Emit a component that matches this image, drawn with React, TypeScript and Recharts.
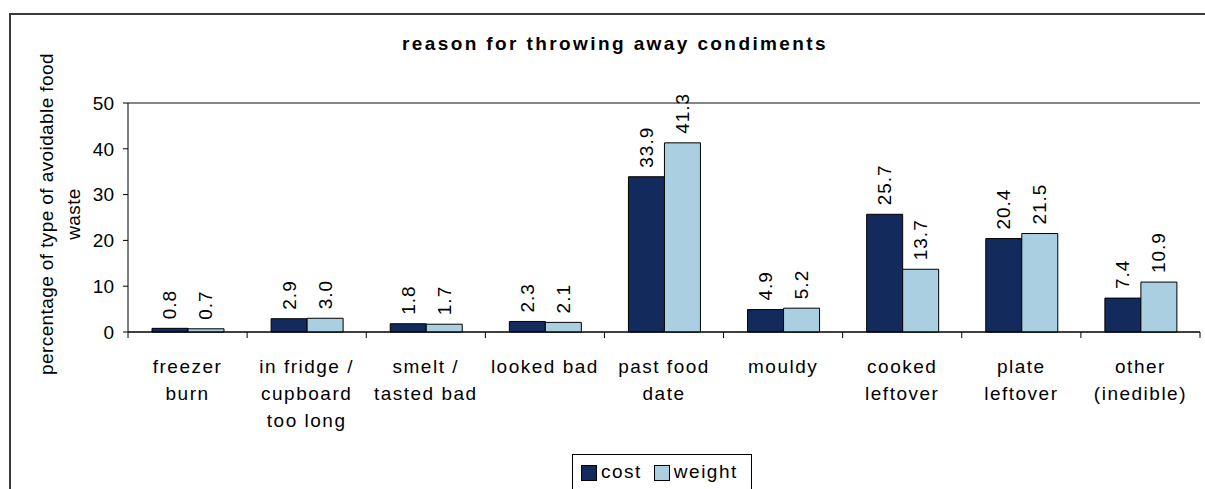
import React from "react";
import { BarChart, Bar, XAxis, YAxis, CartesianGrid, ReferenceLine, LabelList } from "recharts";

const categories = [
  "freezer burn",
  "in fridge / cupboard too long",
  "smelt / tasted bad",
  "looked bad",
  "past food date",
  "mouldy",
  "cooked leftover",
  "plate leftover",
  "other (inedible)",
];
// how each category label wraps under the axis
const categoryLines = [
  ["freezer", "burn"],
  ["in fridge /", "cupboard", "too long"],
  ["smelt /", "tasted bad"],
  ["looked bad"],
  ["past food", "date"],
  ["mouldy"],
  ["cooked", "leftover"],
  ["plate", "leftover"],
  ["other", "(inedible)"],
];
const costValues = [0.8, 2.9, 1.8, 2.3, 33.9, 4.9, 25.7, 20.4, 7.4];
const weightValues = [0.7, 3.0, 1.7, 2.1, 41.3, 5.2, 13.7, 21.5, 10.9];
const yTicks = [0, 10, 20, 30, 40, 50];

const data = categories.map((name, i) => ({
  name,
  cost: costValues[i],
  weight: weightValues[i],
}));

const FONT = '"Liberation Sans", Arial, sans-serif';
const COST_COLOR = "#132B5C";
const WEIGHT_COLOR = "#A9CFE1";

const CategoryTick = (props: any) => {
  const { x, y, payload } = props;
  const lines = categoryLines[payload.index] ?? [String(payload.value)];
  const half = payload.offset ?? 0;
  const isLast = payload.index === categories.length - 1;
  return (
    <g>
      {/* tick marks sit on the category boundaries */}
      <line x1={x - half} x2={x - half} y1={y} y2={y + 6} stroke="#000" />
      {isLast && <line x1={x + half} x2={x + half} y1={y} y2={y + 6} stroke="#000" />}
      {lines.map((line, i) => (
        <text
          key={i}
          x={x}
          y={y + 41 + i * 27}
          textAnchor="middle"
          fontSize={19}
          letterSpacing={1.5}
          fill="#000"
          fontFamily={FONT}
        >
          {line}
        </text>
      ))}
    </g>
  );
};

const ValueLabel = (props: any) => {
  const { x, y, width, value } = props;
  const cx = x + width / 2;
  const cy = y - 9;
  return (
    <text
      x={cx}
      y={cy}
      transform={`rotate(-90 ${cx} ${cy})`}
      textAnchor="start"
      dominantBaseline="central"
      fontSize={19}
      letterSpacing={1}
      fill="#000"
      fontFamily={FONT}
    >
      {Number(value).toFixed(1)}
    </text>
  );
};

export default function App() {
  return (
    <div
      style={{
        position: "absolute",
        left: 0,
        top: 0,
        width: 1205,
        height: 489,
        overflow: "hidden",
        background: "#fff",
        fontFamily: FONT,
      }}
    >
      {/* outer chart frame, runs past the window */}
      <div
        style={{
          position: "absolute",
          left: 9,
          top: 13,
          width: 1300,
          height: 600,
          border: "2px solid #3a3a3a",
        }}
      />

      <div style={{ position: "absolute", left: 0, top: 0 }}>
        <BarChart
          width={1205}
          height={489}
          data={data}
          margin={{ top: 103, right: 5, left: 68, bottom: 47 }}
          barCategoryGap={24}
          barGap={0}
        >
          <CartesianGrid horizontal vertical={false} stroke="#000" strokeWidth={1} />
          <XAxis
            dataKey="name"
            height={110}
            interval={0}
            axisLine={{ stroke: "#000" }}
            tickLine={false}
            tickSize={0}
            tickMargin={0}
            tick={<CategoryTick />}
          />
          <YAxis
            yAxisId="left"
            width={60}
            domain={[0, 50]}
            ticks={yTicks}
            axisLine={{ stroke: "#000" }}
            tickLine={{ stroke: "#000" }}
            tickSize={5}
            tickMargin={9}
            tick={{ fontSize: 19, fill: "#000", fontFamily: FONT }}
          />
          <YAxis
            yAxisId="right"
            orientation="right"
            width={0}
            domain={[0, 50]}
            ticks={yTicks}
            tick={false}
            tickLine={false}
            axisLine={{ stroke: "#8c8c8c" }}
          />
          <ReferenceLine yAxisId="left" y={50} stroke="#8c8c8c" />
          <Bar
            yAxisId="left"
            dataKey="cost"
            fill={COST_COLOR}
            stroke="#000"
            strokeWidth={1}
            isAnimationActive={false}
          >
            <LabelList dataKey="cost" content={<ValueLabel />} />
          </Bar>
          <Bar
            yAxisId="left"
            dataKey="weight"
            fill={WEIGHT_COLOR}
            stroke="#000"
            strokeWidth={1}
            isAnimationActive={false}
          >
            <LabelList dataKey="weight" content={<ValueLabel />} />
          </Bar>
        </BarChart>
      </div>

      {/* title */}
      <div
        style={{
          position: "absolute",
          left: 0,
          top: 32,
          width: 1230,
          textAlign: "center",
          fontSize: 19,
          fontWeight: "bold",
          letterSpacing: 2.4,
          lineHeight: "24px",
          color: "#000",
        }}
      >
        reason for throwing away condiments
      </div>

      {/* y axis title */}
      <div
        style={{
          position: "absolute",
          left: 60,
          top: 214,
          width: 380,
          transform: "translate(-50%, -50%) rotate(-90deg)",
          textAlign: "center",
          fontSize: 19,
          letterSpacing: 0.4,
          lineHeight: "27px",
          color: "#000",
        }}
      >
        percentage of type of avoidable food
        <br />
        waste
      </div>

      {/* legend */}
      <div
        style={{
          position: "absolute",
          left: 572,
          top: 454,
          width: 180,
          height: 40,
          border: "1px solid #000",
          display: "flex",
          alignItems: "flex-start",
          paddingTop: 5,
          paddingLeft: 8,
          boxSizing: "border-box",
          fontSize: 19,
          letterSpacing: 1.5,
          lineHeight: "24px",
          color: "#000",
        }}
      >
        <span style={{ display: "inline-block", width: 14, height: 14, background: COST_COLOR, border: "1px solid #000", marginTop: 5, marginRight: 4 }} />
        <span style={{ marginRight: 12 }}>cost</span>
        <span style={{ display: "inline-block", width: 14, height: 14, background: WEIGHT_COLOR, border: "1px solid #000", marginTop: 5, marginRight: 4 }} />
        <span>weight</span>
      </div>
    </div>
  );
}
